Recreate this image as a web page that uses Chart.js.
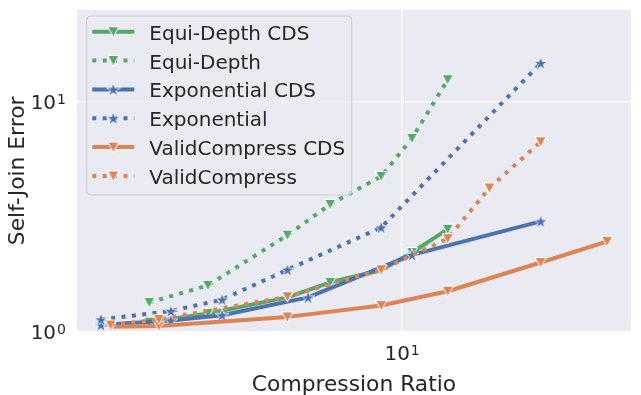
<!DOCTYPE html>
<html>
<head>
<meta charset="utf-8">
<script src="https://cdn.jsdelivr.net/npm/chart.js@4.4.0/dist/chart.umd.min.js"></script>
<style>
  html, body { margin: 0; padding: 0; background: #fff; }
</style>
</head>
<body>
<canvas id="canvas" width="641" height="395"></canvas>
<script>
/* data */
const seriesNames = ['Equi-Depth CDS', 'Equi-Depth', 'Exponential CDS', 'Exponential', 'ValidCompress CDS', 'ValidCompress'];

const equiDepthCdsX = [2.73, 3.69, 5.55, 6.91, 8.98, 10.52, 12.64];
const equiDepthCdsY = [1.10, 1.20, 1.41, 1.64, 1.85, 2.21, 2.79];
const equiDepthX = [2.73, 3.69, 5.55, 6.91, 8.98, 10.52, 12.64];
const equiDepthY = [1.34, 1.59, 2.63, 3.58, 4.74, 6.93, 12.49];
const expCdsX = [2.13, 3.05, 3.97, 6.17, 10.52, 20.37];
const expCdsY = [1.07, 1.12, 1.18, 1.41, 2.16, 3.02];
const expX = [2.13, 3.05, 3.97, 5.55, 8.98, 20.37];
const expY = [1.13, 1.23, 1.38, 1.86, 2.84, 14.73];
const validCdsX = [2.24, 2.87, 5.55, 8.98, 12.64, 20.37, 28.65];
const validCdsY = [1.05, 1.06, 1.16, 1.30, 1.50, 2.00, 2.47];
const validX = [2.24, 2.87, 5.55, 8.98, 12.64, 15.66, 20.37];
const validY = [1.07, 1.13, 1.42, 1.86, 2.54, 4.22, 6.70];

const xTicks = [10];
const yTicks = [1, 10];

const GREEN = '#55A868', BLUE = '#4C72B0', ORANGE = '#DD8452';
const TEXT = '#262626';
const FONT = '"DejaVu Sans", sans-serif';

/* markers: matplotlib 'v' and '*' with white edge */
function triangleMarker(color) {
  const c = document.createElement('canvas');
  c.width = 15; c.height = 15;
  const g = c.getContext('2d');
  g.beginPath();
  g.moveTo(2, 2.5); g.lineTo(13, 2.5); g.lineTo(7.5, 12.8); g.closePath();
  g.fillStyle = color; g.fill();
  g.strokeStyle = '#fff'; g.lineWidth = 1; g.stroke();
  return c;
}
function starMarker(color) {
  const c = document.createElement('canvas');
  c.width = 18; c.height = 18;
  const g = c.getContext('2d');
  const R = 7.3, r = R * 0.381966;
  g.beginPath();
  for (let k = 0; k < 10; k++) {
    const ang = -Math.PI / 2 + k * Math.PI / 5;
    const rad = k % 2 ? r : R;
    const px = 9 + rad * Math.cos(ang), py = 9.6 + rad * Math.sin(ang);
    if (k) g.lineTo(px, py); else g.moveTo(px, py);
  }
  g.closePath();
  g.fillStyle = color; g.fill();
  g.strokeStyle = '#fff'; g.lineWidth = 0.8; g.stroke();
  return c;
}

function series(i, xs, ys, color, dotted, marker) {
  return {
    label: seriesNames[i],
    data: xs.map((x, k) => ({x: x, y: ys[k]})),
    borderColor: color,
    backgroundColor: color,
    borderWidth: 4,
    borderDash: dotted ? [4, 6.4] : [],
    borderCapStyle: dotted ? 'butt' : 'square',
    borderJoinStyle: 'round',
    pointStyle: marker,
    pointRadius: 6,
    pointHoverRadius: 6,
    tension: 0,
    fill: false,
    order: 5 - i
  };
}

const datasets = [
  series(0, equiDepthCdsX, equiDepthCdsY, GREEN, false, triangleMarker(GREEN)),
  series(1, equiDepthX, equiDepthY, GREEN, true, triangleMarker(GREEN)),
  series(2, expCdsX, expCdsY, BLUE, false, starMarker(BLUE)),
  series(3, expX, expY, BLUE, true, starMarker(BLUE)),
  series(4, validCdsX, validCdsY, ORANGE, false, triangleMarker(ORANGE)),
  series(5, validX, validY, ORANGE, true, triangleMarker(ORANGE))
];

/* 10^n with a real superscript */
function drawPow(ctx, v, x, y, align) {
  const exp = String(Math.round(Math.log10(v)));
  ctx.font = '20px ' + FONT;
  const w1 = ctx.measureText('10').width;
  ctx.font = '14px ' + FONT;
  const w2 = ctx.measureText(exp).width;
  const left = align === 'right' ? x - w1 - w2 - 1 : x - (w1 + w2 + 1) / 2;
  ctx.textAlign = 'left';
  ctx.textBaseline = 'alphabetic';
  ctx.fillStyle = TEXT;
  ctx.font = '20px ' + FONT;
  ctx.fillText('10', left, y);
  ctx.font = '14px ' + FONT;
  ctx.fillText(exp, left + w1 + 1, y - 5.5);
}

const decorPlugin = {
  id: 'decor',
  beforeDraw(chart) {
    const {ctx, chartArea: a} = chart;
    ctx.save();
    ctx.fillStyle = '#ffffff';
    ctx.fillRect(0, 0, chart.width, chart.height);
    ctx.fillStyle = '#EAEAF2';
    ctx.fillRect(a.left, a.top, a.right - a.left, a.bottom - a.top);
    ctx.restore();
  },
  afterDraw(chart) {
    const {ctx, chartArea: a} = chart;
    const xs = chart.scales.x, ys = chart.scales.y;
    ctx.save();
    xTicks.forEach(v => drawPow(ctx, v, xs.getPixelForValue(v), 360, 'center'));
    yTicks.forEach(v => drawPow(ctx, v, 66, ys.getPixelForValue(v) + 7.5, 'right'));

    // axis titles
    ctx.fillStyle = TEXT;
    ctx.font = '21.8px ' + FONT;
    ctx.textAlign = 'center';
    ctx.textBaseline = 'alphabetic';
    ctx.fillText('Compression Ratio', (a.left + a.right) / 2, 391);
    ctx.save();
    ctx.translate(24, (a.top + a.bottom) / 2);
    ctx.rotate(-Math.PI / 2);
    ctx.fillText('Self-Join Error', 0, 0);
    ctx.restore();

    // legend box
    const bx = 86.7, by = 16, bw = 265, bh = 179, rr = 4;
    ctx.beginPath();
    ctx.moveTo(bx + rr, by);
    ctx.arcTo(bx + bw, by, bx + bw, by + bh, rr);
    ctx.arcTo(bx + bw, by + bh, bx, by + bh, rr);
    ctx.arcTo(bx, by + bh, bx, by, rr);
    ctx.arcTo(bx, by, bx + bw, by, rr);
    ctx.closePath();
    ctx.fillStyle = 'rgba(234,234,242,0.8)';
    ctx.fill();
    ctx.strokeStyle = '#cccccc';
    ctx.lineWidth = 1;
    ctx.stroke();

    datasets.forEach((d, i) => {
      const y = 31.7 + i * 28.85;
      ctx.beginPath();
      ctx.setLineDash(d.borderDash);
      ctx.lineCap = d.borderCapStyle === 'square' ? 'butt' : d.borderCapStyle;
      ctx.strokeStyle = d.borderColor;
      ctx.lineWidth = d.borderWidth;
      ctx.moveTo(92.3, y);
      ctx.lineTo(134.3, y);
      ctx.stroke();
      ctx.setLineDash([]);
      const m = d.pointStyle;
      ctx.drawImage(m, 113.3 - m.width / 2, y - m.height / 2);
      ctx.fillStyle = TEXT;
      ctx.font = '20px ' + FONT;
      ctx.textAlign = 'left';
      ctx.fillText(d.label, 149.3, y + 8);
    });
    ctx.restore();
  }
};

new Chart(document.getElementById('canvas'), {
  type: 'line',
  data: {datasets: datasets},
  options: {
    responsive: false,
    animation: false,
    layout: {padding: {top: 7, right: 8, left: 0, bottom: 0}},
    plugins: {legend: {display: false}, tooltip: {enabled: false}},
    scales: {
      x: {
        type: 'logarithmic',
        min: 1.884,
        max: 32.39,
        afterBuildTicks(s) { s.ticks = xTicks.map(v => ({value: v})); },
        afterFit(s) { s.height = 63.3; },
        grid: {color: '#ffffff', lineWidth: 1.2, drawTicks: false},
        border: {display: false},
        ticks: {display: false}
      },
      y: {
        type: 'logarithmic',
        min: 1,
        max: 25.09,
        afterBuildTicks(s) { s.ticks = yTicks.map(v => ({value: v})); },
        afterFit(s) { s.width = 77; },
        grid: {color: '#ffffff', lineWidth: 1.2, drawTicks: false},
        border: {display: false},
        ticks: {display: false}
      }
    }
  },
  plugins: [decorPlugin]
});
</script>
</body>
</html>
